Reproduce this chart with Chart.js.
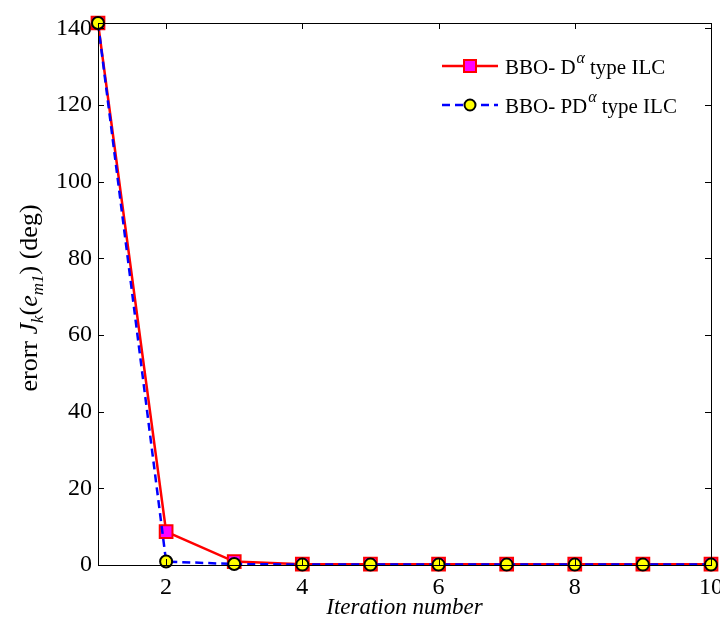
<!DOCTYPE html>
<html>
<head>
<meta charset="utf-8">
<script src="https://cdn.jsdelivr.net/npm/chart.js@4.4.1/dist/chart.umd.min.js"></script>
<style>
  html, body { margin: 0; padding: 0; background: #ffffff; }
  #wrap { width: 720px; height: 620px; }
</style>
</head>
<body>
<div id="wrap"><canvas id="chart-error" width="720" height="620"></canvas></div>
<script>
const iterations = [1, 2, 3, 4, 5, 6, 7, 8, 9, 10]
const errorD = [141.4, 8.7, 0.9, 0.2, 0.2, 0.2, 0.2, 0.2, 0.2, 0.2]
const errorPD = [141.4, 0.9, 0.25, 0.1, 0.1, 0.1, 0.1, 0.1, 0.1, 0.1]
const xTicks = [2, 4, 6, 8, 10]
const yTicks = [0, 20, 40, 60, 80, 100, 120, 140]

const serif = '"Liberation Serif", "Times New Roman", serif'

// box, inside tick marks, axis titles and legend
const decorations = {
    id: 'decorations',
    afterDraw(chart) {
        const ctx = chart.ctx
        const area = chart.chartArea
        const xs = chart.scales.x
        const ys = chart.scales.y
        const tl = 6

        ctx.save()
        ctx.strokeStyle = '#000000'
        ctx.lineWidth = 1
        ctx.strokeRect(area.left + 0.5, area.top + 0.5, area.right - area.left, area.bottom - area.top)

        ctx.beginPath()
        xTicks.forEach(v => {
            const px = Math.round(xs.getPixelForValue(v)) + 0.5
            ctx.moveTo(px, area.bottom); ctx.lineTo(px, area.bottom - tl)
            ctx.moveTo(px, area.top); ctx.lineTo(px, area.top + tl)
        })
        yTicks.forEach(v => {
            const py = Math.round(ys.getPixelForValue(v)) + 0.5
            ctx.moveTo(area.left, py); ctx.lineTo(area.left + tl, py)
            ctx.moveTo(area.right, py); ctx.lineTo(area.right - tl, py)
        })
        ctx.stroke()

        // x title
        ctx.fillStyle = '#000000'
        ctx.font = 'italic 23px ' + serif
        ctx.textAlign = 'center'
        ctx.textBaseline = 'alphabetic'
        ctx.fillText('Iteration number', (area.left + area.right) / 2, 614)

        // y title with subscripts
        const parts = [
            { t: 'erorr ', f: '26px ' + serif, dy: 0 },
            { t: 'J', f: 'italic 26px ' + serif, dy: 0 },
            { t: 'k', f: 'italic 17px ' + serif, dy: 6 },
            { t: '(', f: '26px ' + serif, dy: 0 },
            { t: 'e', f: 'italic 26px ' + serif, dy: 0 },
            { t: 'm1', f: 'italic 17px ' + serif, dy: 6 },
            { t: ') (deg)', f: '26px ' + serif, dy: 0 }
        ]
        let total = 0
        parts.forEach(p => { ctx.font = p.f; p.w = ctx.measureText(p.t).width; total += p.w })
        ctx.translate(37, 298)
        ctx.rotate(-Math.PI / 2)
        ctx.textAlign = 'left'
        let cx = -total / 2
        parts.forEach(p => {
            ctx.font = p.f
            ctx.fillText(p.t, cx, p.dy)
            cx += p.w
        })
        ctx.restore()

        // legend
        ctx.save()
        const rows = [
            { y: 66, color: '#ff0000', dash: [], width: 2.5, base: 'BBO- D' },
            { y: 105, color: '#0000ff', dash: [8, 5], width: 2.5, base: 'BBO- PD' }
        ]
        rows.forEach((r, i) => {
            ctx.strokeStyle = r.color
            ctx.lineWidth = r.width
            ctx.setLineDash(r.dash)
            ctx.beginPath()
            ctx.moveTo(442, r.y); ctx.lineTo(498, r.y)
            ctx.stroke()
            ctx.setLineDash([])
            if (i === 0) {
                ctx.fillStyle = '#ff00ff'
                ctx.strokeStyle = '#ff0000'
                ctx.lineWidth = 2
                ctx.fillRect(464, r.y - 6, 12, 12)
                ctx.strokeRect(464, r.y - 6, 12, 12)
            } else {
                ctx.fillStyle = '#ffff00'
                ctx.strokeStyle = '#000000'
                ctx.lineWidth = 2
                ctx.beginPath()
                ctx.arc(470, r.y, 5.5, 0, Math.PI * 2)
                ctx.fill()
                ctx.stroke()
            }
            ctx.fillStyle = '#000000'
            ctx.textAlign = 'left'
            ctx.font = '21px ' + serif
            let tx = 505
            ctx.fillText(r.base, tx, r.y + 8)
            tx += ctx.measureText(r.base).width + 1
            ctx.font = 'italic 16px ' + serif
            ctx.fillText('\u03b1', tx, r.y - 3)
            tx += ctx.measureText('\u03b1').width + 5
            ctx.font = '21px ' + serif
            ctx.fillText('type ILC', tx, r.y + 8)
        })
        ctx.restore()
    }
}

const chartContext = document.getElementById('chart-error').getContext('2d')

new Chart(chartContext, {
    type: 'line',
    data: {
        labels: iterations,
        datasets: [{
            label: 'BBO- D type ILC',
            data: iterations.map((x, i) => ({ x: x, y: errorD[i] })),
            borderColor: '#ff0000',
            borderWidth: 2.5,
            pointStyle: 'rect',
            pointRadius: 9,
            pointBorderWidth: 2,
            pointBackgroundColor: '#ff00ff',
            pointBorderColor: '#ff0000',
            tension: 0,
            clip: false,
            order: 2
        }, {
            label: 'BBO- PD type ILC',
            data: iterations.map((x, i) => ({ x: x, y: errorPD[i] })),
            borderColor: '#0000ff',
            borderWidth: 2.5,
            borderDash: [8, 5],
            pointStyle: 'circle',
            pointRadius: 6,
            pointBorderWidth: 2,
            pointBackgroundColor: '#ffff00',
            pointBorderColor: '#000000',
            tension: 0,
            clip: false,
            order: 1
        }]
    },
    options: {
        responsive: false,
        animation: false,
        layout: {
            autoPadding: false,
            padding: { left: 0, right: 9, top: 23, bottom: 0 }
        },
        plugins: {
            legend: { display: false },
            tooltip: { enabled: false }
        },
        scales: {
            x: {
                type: 'linear',
                min: 1,
                max: 10,
                afterFit: scale => {
                    scale.height = 55
                    scale.paddingLeft = 0
                    scale.paddingRight = 0
                },
                afterBuildTicks: scale => { scale.ticks = xTicks.map(v => ({ value: v })) },
                grid: { display: false, drawTicks: false, tickLength: 0 },
                border: { display: false },
                ticks: {
                    color: '#000000',
                    padding: 8,
                    maxRotation: 0,
                    font: { family: serif, size: 24 }
                }
            },
            y: {
                type: 'linear',
                min: 0,
                max: 141.4,
                afterFit: scale => {
                    scale.width = 98
                    scale.paddingTop = 0
                    scale.paddingBottom = 0
                },
                afterBuildTicks: scale => { scale.ticks = yTicks.map(v => ({ value: v })) },
                grid: { display: false, drawTicks: false, tickLength: 0 },
                border: { display: false },
                ticks: {
                    color: '#000000',
                    padding: 6,
                    font: { family: serif, size: 24 }
                }
            }
        }
    },
    plugins: [decorations]
})
</script>
</body>
</html>
